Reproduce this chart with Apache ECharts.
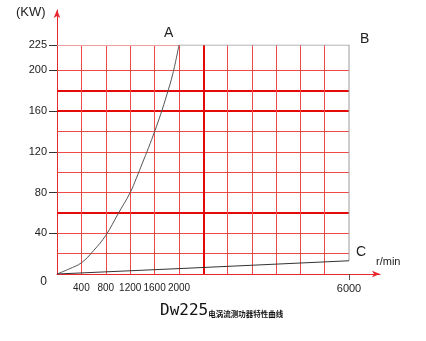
<!DOCTYPE html>
<html><head><meta charset="utf-8">
<script src="https://cdn.jsdelivr.net/npm/echarts@6/dist/echarts.min.js"></script>
<style>html,body{margin:0;padding:0;background:#fff}#c{width:426px;height:341px}</style>
</head><body><div id="c"></div>
<script>
// Curve O-A (speed r/min, power kW)
const curveRpm = [0, 200, 400, 600, 800, 1000, 1200, 1300, 1400, 1500, 1600, 1700, 1800, 1900, 2000];
const curveKw  = [0, 5, 11, 23, 38, 59, 80, 94, 109, 124, 140, 157, 176, 197, 225];
// Envelope A-B-C
const envRpm = [2000, 6000, 6000];
const envKw  = [225, 225, 13];
// Line O-C
const cRpm = [0, 2000, 6000];
const cKw  = [0, 5.3, 13];
// Tick labels
const yTickLabels = [0, 40, 80, 120, 160, 200, 225];
const xTickLabels1 = [400, 800, 1200, 1600, 2000];
const xTickLabels2 = [6000];
// Grid lines
const kwGrid = [20, 40, 60, 80, 100, 120, 140, 160, 180, 200];
const kwBold = [60, 160, 180];
const rpmGrid1 = [400, 800, 1200, 1600, 2000];
const rpmCells2 = 7;      // the 2000-6000 span is drawn as 7 equal cells
const rpmBoldCell2 = [1];

const RED = '#ef4a4a', BOLD = '#e40a0a', AXIS = '#e8262e';
const FONT = 'Liberation Sans';
const NARROW = '"Liberation Sans Narrow", "Liberation Sans", sans-serif';
const zip = (a, b) => a.map((v, i) => [v, b[i]]);
const norm = { color: RED, width: 1, type: 'solid' };
const bold = { color: BOLD, width: 2, type: 'solid' };
const hLines = kwGrid.map(v => ({ yAxis: v, lineStyle: kwBold.includes(v) ? bold : norm }));
const vLines1 = rpmGrid1.map(v => ({ xAxis: v, lineStyle: norm }));
const vLines2 = [];
for (let k = 1; k < rpmCells2; k++) {
  vLines2.push({ xAxis: 2000 + k * 4000 / rpmCells2, lineStyle: rpmBoldCell2.includes(k) ? bold : norm });
}
const mlBase = { silent: true, symbol: ['none', 'none'], label: { show: false }, z: 1, animation: false };
const fmt = v => String(v);

const chart = echarts.init(document.getElementById('c'));
chart.setOption({
  animation: false,
  backgroundColor: '#fff',
  grid: [
    { left: 57, top: 45, width: 122, height: 229, outerBoundsMode: 'none' },
    { left: 179, top: 45, width: 170, height: 229, outerBoundsMode: 'none' },
    { left: 57, top: 10, width: 323, height: 264, outerBoundsMode: 'none' }
  ],
  xAxis: [
    { gridIndex: 0, type: 'value', min: 0, max: 2000, interval: 400,
      axisLine: { show: false }, axisTick: { show: false },
      axisLabel: { customValues: xTickLabels1, formatter: fmt, margin: 9, fontSize: 10, color: '#222', fontFamily: NARROW, hideOverlap: false },
      splitLine: { show: false } },
    { gridIndex: 1, type: 'value', min: 2000, max: 6000,
      axisLine: { show: false },
      axisTick: { show: true, customValues: xTickLabels2, length: 6, lineStyle: { color: '#555' } },
      axisLabel: { customValues: xTickLabels2, formatter: fmt, margin: 9, fontSize: 11, color: '#222', fontFamily: FONT },
      splitLine: { show: false } },
    { gridIndex: 2, type: 'value', min: 0, max: 1,
      axisLine: { show: true, symbol: ['none', 'arrow'], symbolSize: [5, 8], lineStyle: { color: AXIS, width: 1 } },
      axisTick: { show: false }, axisLabel: { show: false }, splitLine: { show: false } }
  ],
  yAxis: [
    { gridIndex: 0, type: 'value', min: 0, max: 225,
      axisLine: { show: false },
      axisTick: { show: true, customValues: yTickLabels.filter(v => v > 0), length: 8, lineStyle: { color: '#333' } },
      axisLabel: { customValues: yTickLabels, margin: 10, fontSize: 11, color: '#222', fontFamily: FONT,
        formatter: v => v === 0 ? '{z|0}' : String(v),
        rich: { z: { fontSize: 12, color: '#222', fontFamily: FONT, padding: [16, 0, 0, 0] } } },
      splitLine: { show: false } },
    { gridIndex: 1, type: 'value', min: 0, max: 225, show: false, splitLine: { show: false } },
    { gridIndex: 2, type: 'value', min: 0, max: 1,
      axisLine: { show: true, symbol: ['none', 'arrow'], symbolSize: [5, 8], lineStyle: { color: AXIS, width: 1 } },
      axisTick: { show: false }, axisLabel: { show: false }, splitLine: { show: false } }
  ],
  title: [
    { text: '(KW)', left: 16, top: 6, padding: 0, textStyle: { fontSize: 13, fontWeight: 'normal', color: '#222', fontFamily: FONT } },
    { text: 'A', left: 164, top: 26, padding: 0, textStyle: { fontSize: 14, fontWeight: 'normal', color: '#222', fontFamily: FONT } },
    { text: 'B', left: 360, top: 32, padding: 0, textStyle: { fontSize: 14, fontWeight: 'normal', color: '#222', fontFamily: FONT } },
    { text: 'C', left: 356, top: 245, padding: 0, textStyle: { fontSize: 14, fontWeight: 'normal', color: '#222', fontFamily: FONT } },
    { text: 'r/min', left: 376, top: 256, padding: 0, textStyle: { fontSize: 11, fontWeight: 'normal', color: '#222', fontFamily: FONT } },
    { text: '{a|Dw225}{b|电涡流测功器特性曲线}', left: 160, top: 303, padding: 0,
      textStyle: { fontWeight: 'normal', rich: {
        a: { fontSize: 16, fontFamily: 'DejaVu Sans Mono', fontWeight: 'normal', color: '#111', verticalAlign: 'bottom' },
        b: { fontSize: 7.5, fontFamily: 'Noto Sans CJK SC', fontWeight: 'bold', color: '#111', verticalAlign: 'bottom', padding: [0, 0, 1, 0] }
      } } }
  ],
  series: [
    { type: 'line', xAxisIndex: 0, yAxisIndex: 0, data: zip(curveRpm, curveKw), smooth: 0.4, symbol: 'none',
      lineStyle: { color: '#555', width: 1 }, z: 3,
      markLine: Object.assign({}, mlBase, { data: hLines.concat(vLines1, [{ yAxis: 225, lineStyle: { color: '#f2a0a0', width: 1, type: 'solid' } }]) }) },
    { type: 'line', xAxisIndex: 0, yAxisIndex: 0, data: zip(cRpm, cKw).filter(p => p[0] <= 2000), symbol: 'none',
      lineStyle: { color: '#333', width: 1 }, z: 3 },
    { type: 'line', xAxisIndex: 1, yAxisIndex: 1, data: zip(envRpm, envKw), symbol: 'none',
      lineStyle: { color: '#9a9a9a', width: 1 }, z: 3,
      markLine: Object.assign({}, mlBase, { data: hLines.concat(vLines2) }) },
    { type: 'line', xAxisIndex: 1, yAxisIndex: 1, data: zip(cRpm, cKw).filter(p => p[0] >= 2000), symbol: 'none',
      lineStyle: { color: '#333', width: 1 }, z: 3 }
  ]
});
</script></body></html>
